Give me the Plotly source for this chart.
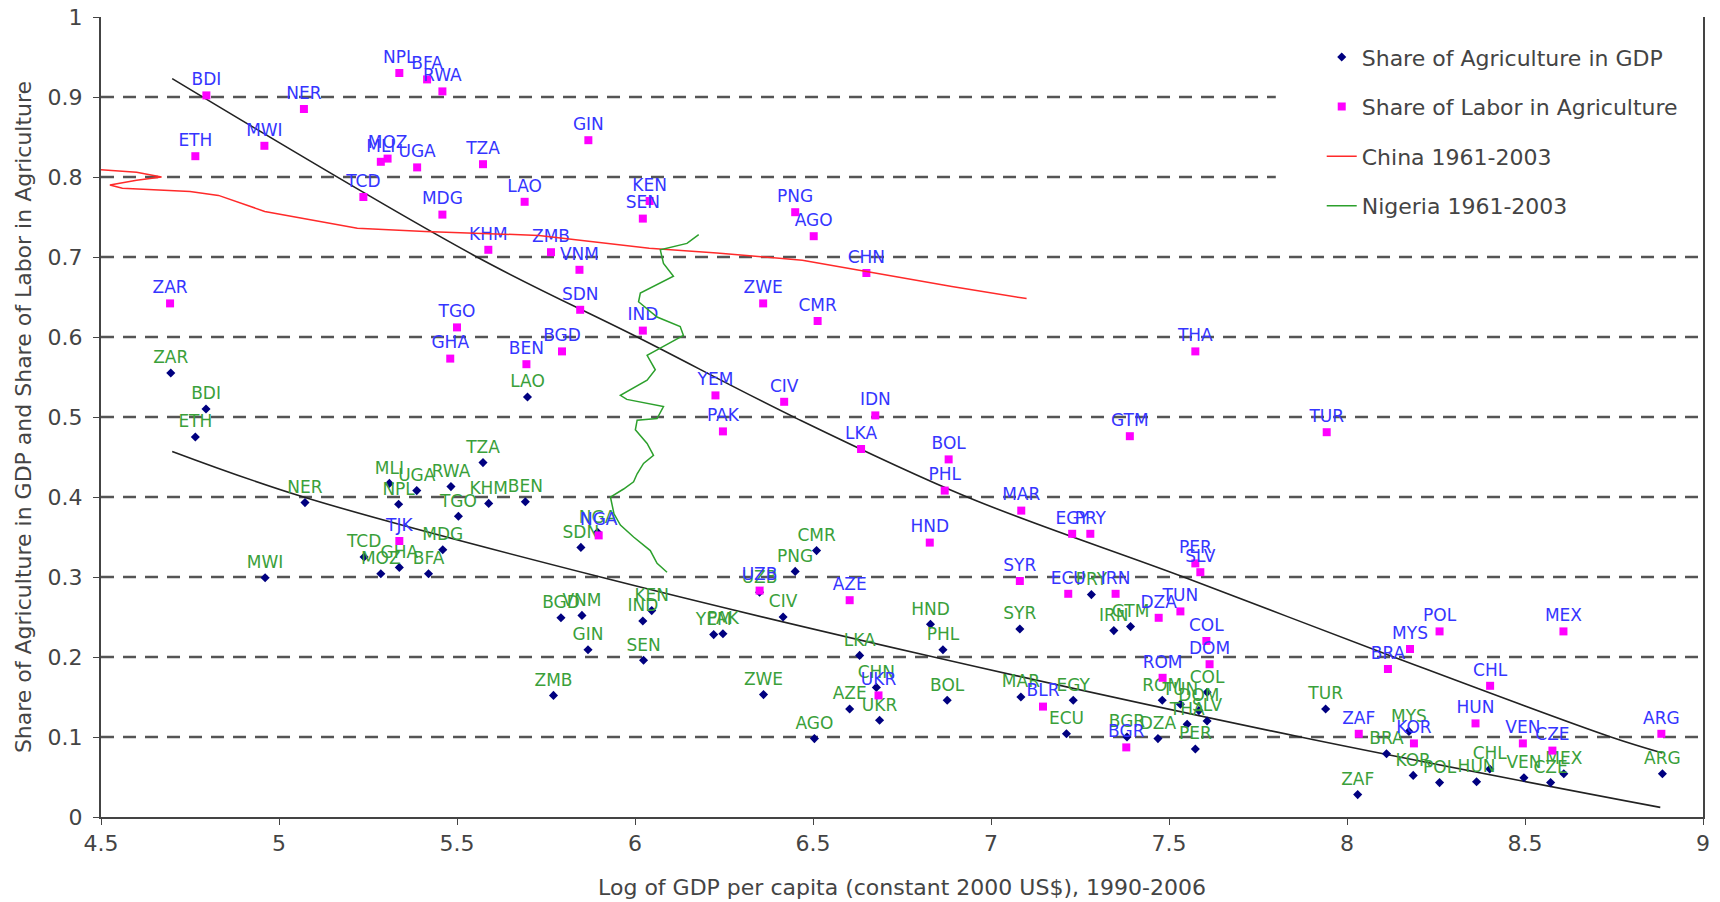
import plotly.graph_objects as go

# ---------------- data ----------------
labor_codes = ["BDI","NER","NPL","BFA","RWA","MWI","ETH","MLI","MOZ","UGA","TZA","TCD","MDG","LAO",
               "KHM","ZMB","VNM","GIN","KEN","SEN","PNG","AGO","CHN","ZWE","CMR","ZAR","TGO","GHA",
               "BEN","BGD","SDN","IND","YEM","PAK","CIV","IDN","LKA","BOL","PHL","MAR","EGY","PRY",
               "HND","SYR","THA","GTM","TUR","PER","SLV","ECU","IRN","DZA","TUN","COL","DOM","ROM",
               "BLR","BGR","UZB","AZE","UKR","BRA","MYS","POL","MEX","CHL","HUN","ZAF","KOR","VEN",
               "CZE","ARG","TJK","NGA"]
labor_x = [4.796,5.070,5.338,5.416,5.459,4.959,4.765,5.286,5.305,5.388,5.573,5.237,5.459,5.690,
           5.588,5.764,5.844,5.869,6.041,6.022,6.450,6.502,6.650,6.360,6.513,4.694,5.500,5.481,
           5.695,5.795,5.846,6.022,6.226,6.247,6.419,6.675,6.635,6.881,6.870,7.085,7.228,7.279,
           6.828,7.081,7.574,7.390,7.943,7.574,7.588,7.217,7.350,7.471,7.532,7.605,7.614,7.482,
           7.146,7.380,6.350,6.603,6.684,8.115,8.177,8.260,8.608,8.402,8.361,8.033,8.188,8.494,
           8.577,8.883,5.338,5.898]
labor_y = [0.902,0.885,0.930,0.922,0.907,0.839,0.826,0.819,0.823,0.812,0.816,0.775,0.753,0.769,
           0.709,0.706,0.684,0.846,0.770,0.748,0.756,0.726,0.680,0.642,0.620,0.642,0.612,0.573,
           0.566,0.582,0.634,0.608,0.527,0.482,0.519,0.502,0.460,0.447,0.408,0.383,0.354,0.354,
           0.343,0.295,0.582,0.476,0.481,0.317,0.306,0.279,0.279,0.249,0.257,0.220,0.191,0.174,
           0.138,0.087,0.283,0.271,0.152,0.185,0.210,0.232,0.232,0.164,0.117,0.104,0.092,0.092,
           0.083,0.104,0.345,0.352]

gdp_codes = ["ZAR","BDI","ETH","NER","MLI","NPL","UGA","RWA","TZA","TGO","KHM","BEN","LAO","MDG",
             "TCD","MOZ","GHA","BFA","MWI","SDN","NGA","CMR","PNG","UZB","BGD","VNM","IND","KEN",
             "YEM","PAK","CIV","GIN","SEN","ZMB","ZWE","LKA","CHN","AZE","UKR","AGO","HND","SYR",
             "PHL","BOL","MAR","EGY","ECU","PRY","IRN","GTM","ROM","BGR","DZA","TUN","DOM","COL",
             "PER","THA","SLV","TUR","ZAF","BRA","MYS","KOR","POL","HUN","CHL","VEN","CZE","MEX","ARG"]
gdp_x = [4.696,4.795,4.765,5.073,5.310,5.336,5.387,5.483,5.573,5.504,5.589,5.692,5.698,5.460,
         5.239,5.286,5.338,5.420,4.961,5.848,5.895,6.510,6.450,6.350,5.792,5.851,6.022,6.047,
         6.221,6.247,6.416,5.868,6.024,5.771,6.361,6.631,6.678,6.603,6.687,6.504,6.830,7.081,
         6.865,6.877,7.084,7.231,7.212,7.282,7.345,7.392,7.481,7.382,7.469,7.532,7.584,7.607,
         7.574,7.551,7.607,7.940,8.030,8.111,8.174,8.186,8.260,8.364,8.401,8.497,8.572,8.609,8.886]
gdp_y = [0.555,0.510,0.475,0.393,0.417,0.391,0.408,0.413,0.443,0.376,0.392,0.394,0.525,0.334,
         0.325,0.304,0.312,0.304,0.299,0.337,0.356,0.333,0.307,0.281,0.249,0.252,0.245,0.258,
         0.228,0.229,0.250,0.209,0.196,0.152,0.153,0.202,0.162,0.135,0.121,0.098,0.241,0.235,
         0.209,0.146,0.150,0.146,0.104,0.278,0.233,0.238,0.146,0.100,0.098,0.141,0.133,0.156,
         0.085,0.116,0.120,0.135,0.028,0.079,0.107,0.052,0.043,0.044,0.060,0.049,0.043,0.054,0.054]

china_x = [4.50,4.60,4.67,4.60,4.525,4.56,4.75,4.83,4.96,5.22,5.41,5.73,6.04,6.23,6.47,6.65,6.89,7.10]
china_y = [0.809,0.806,0.800,0.796,0.790,0.786,0.782,0.777,0.757,0.736,0.732,0.727,0.711,0.705,0.696,0.682,0.663,0.648]

nigeria_x = [6.179,6.146,6.071,6.080,6.108,6.015,6.010,6.062,6.127,6.136,6.062,6.034,6.057,6.034,
             5.959,5.977,6.080,6.062,6.006,6.001,6.034,6.052,6.024,6.006,5.996,5.968,5.931,5.941,
             5.959,5.996,6.043,6.062,6.090]
nigeria_y = [0.728,0.717,0.709,0.692,0.676,0.655,0.644,0.625,0.613,0.602,0.584,0.577,0.559,0.546,
             0.527,0.522,0.513,0.498,0.496,0.484,0.467,0.452,0.442,0.429,0.419,0.410,0.400,0.379,
             0.365,0.350,0.333,0.317,0.306]

trend_labor_x = [4.70,5.556,6.006,6.455,6.933,7.541,8.131,8.741,8.886]
trend_labor_y = [0.923,0.700,0.600,0.498,0.400,0.300,0.200,0.100,0.080]
trend_gdp_x = [4.70,5.069,5.903,6.839,7.869,8.880]
trend_gdp_y = [0.457,0.400,0.300,0.200,0.100,0.012]

x_ticks = [4.5,5,5.5,6,6.5,7,7.5,8,8.5,9]
x_tick_text = ["4.5","5","5.5","6","6.5","7","7.5","8","8.5","9"]
y_ticks = [0,0.1,0.2,0.3,0.4,0.5,0.6,0.7,0.8,0.9,1]
y_tick_text = ["0","0.1","0.2","0.3","0.4","0.5","0.6","0.7","0.8","0.9","1"]
grid_y = [0.1,0.2,0.3,0.4,0.5,0.6,0.7,0.8,0.9]

FONT = "DejaVu Sans"

fig = go.Figure()

# trend lines
fig.add_trace(go.Scatter(x=trend_labor_x, y=trend_labor_y, mode="lines", line=dict(color="#222", width=1.6, shape="spline"),
                         showlegend=False, hoverinfo="skip"))
fig.add_trace(go.Scatter(x=trend_gdp_x, y=trend_gdp_y, mode="lines", line=dict(color="#222", width=1.6, shape="spline"),
                         showlegend=False, hoverinfo="skip"))

fig.add_trace(go.Scatter(x=gdp_x, y=gdp_y, text=gdp_codes, mode="markers+text", name="Share of Agriculture in GDP",
                         marker=dict(symbol="diamond", size=7, color="#000080"),
                         textposition="top center", textfont=dict(family=FONT, size=17, color="#3aa03a"),
                         legendgroup="g1"))
fig.add_trace(go.Scatter(x=labor_x, y=labor_y, text=labor_codes, mode="markers+text", name="Share of Labor in Agriculture",
                         marker=dict(symbol="square", size=8, color="#ff00ff"),
                         textposition="top center", textfont=dict(family=FONT, size=17, color="#3535ff"),
                         legendgroup="g2"))
fig.add_trace(go.Scatter(x=china_x, y=china_y, mode="lines", name="China 1961-2003",
                         line=dict(color="#ff2a2a", width=1.5), legendgroup="g3"))
fig.add_trace(go.Scatter(x=nigeria_x, y=nigeria_y, mode="lines", name="Nigeria 1961-2003",
                         line=dict(color="#2ca02c", width=1.5), legendgroup="g4"))

shapes = []
for gy in grid_y:
    shapes.append(dict(type="line", xref="x", yref="y", x0=4.5, x1=9, y0=gy, y1=gy, layer="below",
                       line=dict(color="#555", width=2.5, dash="13px,9px")))
# white legend backdrop that hides the upper grid lines
shapes.append(dict(type="rect", xref="x", yref="y", x0=7.80, x1=8.995, y0=0.745, y1=1.0,
                   layer="below", fillcolor="white", line=dict(width=0)))

fig.update_layout(
    width=1720, height=902,
    margin=dict(l=101, r=17, t=17, b=85, autoexpand=False),
    paper_bgcolor="white", plot_bgcolor="white",
    font=dict(family=FONT, color="#444"),
    shapes=shapes,
    legend=dict(x=0.762, y=0.976, xanchor="left", yanchor="top", bgcolor="rgba(255,255,255,0)",
                font=dict(family=FONT, size=22, color="#444"), traceorder="grouped", tracegroupgap=18),
    xaxis=dict(range=[4.5, 9], tickvals=x_ticks, ticktext=x_tick_text, showgrid=False, zeroline=False,
               automargin=False,
               showline=True, linecolor="#444", linewidth=2, ticks="outside", ticklen=6, tickcolor="#444",
               tickfont=dict(family=FONT, size=22, color="#444"),
               title=dict(text="Log of GDP per capita (constant 2000 US$), 1990-2006",
                          font=dict(family=FONT, size=22, color="#444"), standoff=24)),
    yaxis=dict(range=[0, 1], tickvals=y_ticks, ticktext=y_tick_text, showgrid=False, zeroline=False,
               automargin=False,
               showline=True, mirror=True, linecolor="#444", linewidth=2, ticks="outside", ticklen=6,
               tickcolor="#444", tickfont=dict(family=FONT, size=22, color="#444"), ticklabelstandoff=6,
               title=dict(text="Share of Agriculture in GDP and Share of Labor in Agriculture",
                          font=dict(family=FONT, size=22, color="#444"), standoff=10)),
)

fig.write_html("out.html")
